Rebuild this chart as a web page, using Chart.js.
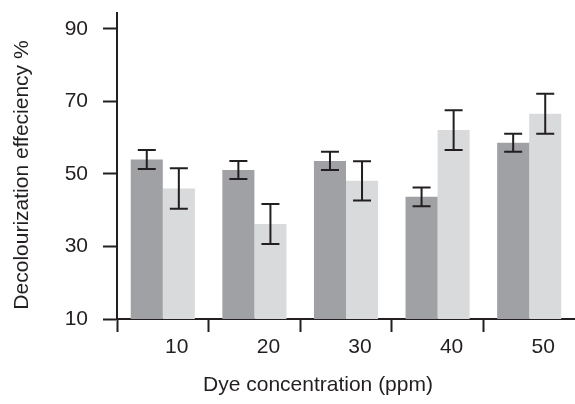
<!DOCTYPE html>
<html>
<head>
<meta charset="utf-8">
<script src="https://cdn.jsdelivr.net/npm/chart.js@4"></script>
<style>
  html, body { margin: 0; padding: 0; background: #fff; }
  #wrap { width: 575px; height: 404px; }
</style>
</head>
<body>
<div id="wrap"><canvas id="myChart"></canvas></div>
<script>
// data
const categories = ['10', '20', '30', '40', '50'];
const darkValues = [54.0, 51.1, 53.6, 43.7, 58.6];
const darkErrors = [2.6, 2.5, 2.5, 2.6, 2.5];
const lightValues = [46.0, 36.2, 48.1, 62.1, 66.6];
const lightErrors = [5.6, 5.5, 5.4, 5.5, 5.5];
const yTicks = [10, 30, 50, 70, 90];

const ink = '#231f20';
const font = { family: '"Liberation Sans", Arial, sans-serif', size: 21 };

const errorBars = {
  id: 'errorBars',
  afterDatasetsDraw(chart) {
    const c = chart.ctx;
    const y = chart.scales.y;
    c.save();
    c.strokeStyle = ink;
    c.lineWidth = 2;
    chart.data.datasets.forEach((ds, i) => {
      const meta = chart.getDatasetMeta(i);
      meta.data.forEach((bar, j) => {
        const v = ds.data[j], e = ds.errors[j];
        const top = y.getPixelForValue(v + e);
        const bot = y.getPixelForValue(v - e);
        const x = bar.x, w = 9;
        c.beginPath();
        c.moveTo(x, top); c.lineTo(x, bot);
        c.moveTo(x - w, top); c.lineTo(x + w, top);
        c.moveTo(x - w, bot); c.lineTo(x + w, bot);
        c.stroke();
      });
    });
    c.restore();
  }
};

const axisTitles = {
  id: 'axisTitles',
  afterDraw(chart) {
    const c = chart.ctx;
    c.save();
    c.fillStyle = ink;
    c.font = '21px "Liberation Sans", Arial, sans-serif';
    c.textAlign = 'center';
    c.textBaseline = 'middle';
    c.fillText('Dye concentration (ppm)', 318, 385);
    c.translate(22, 175);
    c.rotate(-Math.PI / 2);
    c.fillText('Decolourization effeciency %', 0, 0);
    c.restore();
  }
};

new Chart(document.getElementById('myChart'), {
  type: 'bar',
  data: {
    labels: categories,
    datasets: [
      { data: darkValues, errors: darkErrors, backgroundColor: '#a0a1a5' },
      { data: lightValues, errors: lightErrors, backgroundColor: '#d9dadc' }
    ]
  },
  options: {
    responsive: true,
    maintainAspectRatio: false,
    animation: false,
    layout: { padding: 0 },
    datasets: { bar: { barPercentage: 1, categoryPercentage: 0.7 } },
    plugins: { legend: { display: false }, tooltip: { enabled: false } },
    scales: {
      x: {
        grid: {
          offset: true, drawOnChartArea: false, tickLength: 13, tickWidth: 2,
          // no tick mark at the right end of the axis
          tickColor: ctx => ctx.type === 'tick' ? ink : 'rgba(0,0,0,0)'
        },
        border: { color: ink, width: 2 },
        ticks: { color: ink, font: font, labelOffset: 14, padding: 3 },
        afterFit(s) { s.height = 85; }
      },
      y: {
        min: 10,
        max: 94.4,
        afterBuildTicks(s) { s.ticks = yTicks.map(v => ({ value: v })); },
        grid: { drawOnChartArea: false, tickLength: 14, tickWidth: 2, tickColor: ink },
        border: { color: ink, width: 2 },
        ticks: { color: ink, font: font, padding: 15 },
        afterFit(s) { s.width = 117; s.paddingTop = 13; s.paddingBottom = 0; }
      }
    }
  },
  plugins: [errorBars, axisTitles]
});
</script>
</body>
</html>
